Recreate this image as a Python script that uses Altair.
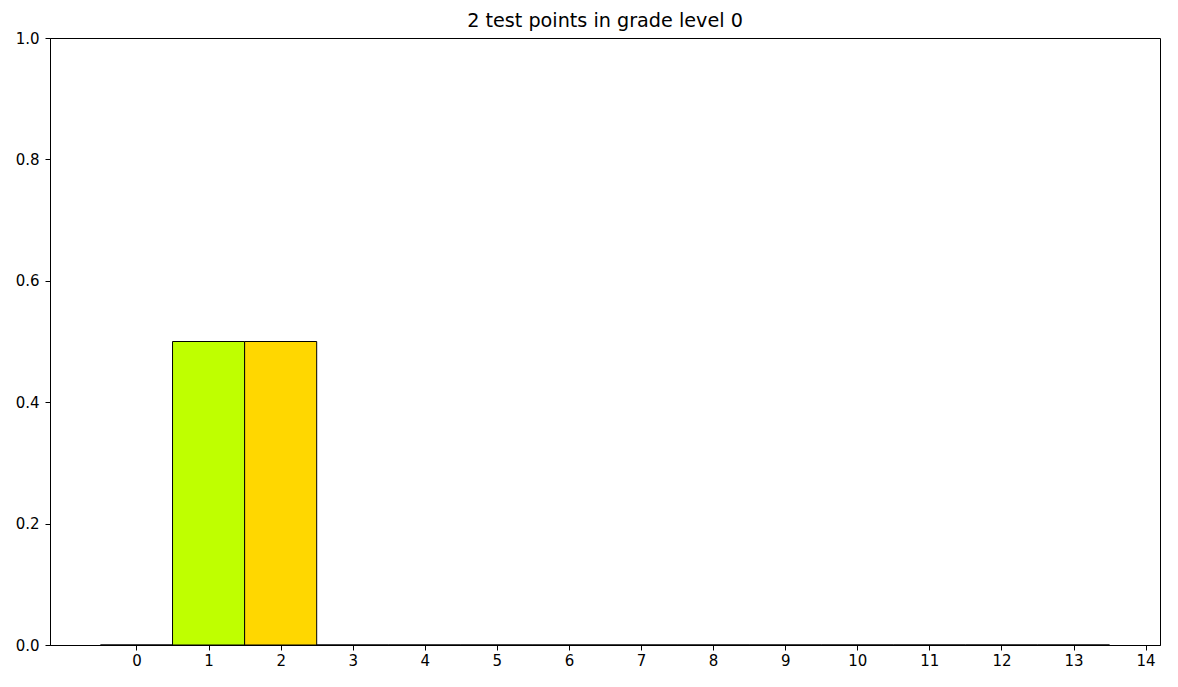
import altair as alt
import pandas as pd

levels = list(range(14))
fractions = [0.0, 0.5, 0.5, 0, 0, 0, 0, 0, 0, 0, 0, 0, 0, 0]
colors = ["#ffffff", "#bfff00", "#ffd700", "#ffffff", "#ffffff", "#ffffff", "#ffffff",
          "#ffffff", "#ffffff", "#ffffff", "#ffffff", "#ffffff", "#ffffff", "#ffffff"]
x_ticks = list(range(15))
y_ticks = [0.0, 0.2, 0.4, 0.6, 0.8, 1.0]

df = pd.DataFrame({
    "level": levels,
    "start": [l - 0.5 for l in levels],
    "end": [l + 0.5 for l in levels],
    "fraction": fractions,
    "base": [0.0] * len(levels),
    "color": colors,
})

font = "DejaVu Sans"

bars = alt.Chart(df).mark_bar(stroke="black", strokeWidth=1, opacity=1).encode(
    x=alt.X("start:Q", scale=alt.Scale(domain=[-1.2, 14.2], nice=False, zero=False),
            axis=alt.Axis(values=x_ticks, format="d", title=None)),
    x2="end:Q",
    y=alt.Y("fraction:Q", scale=alt.Scale(domain=[0, 1], nice=False),
            axis=alt.Axis(values=y_ticks, format=".1f", title=None)),
    y2="base:Q",
    color=alt.Color("color:N", scale=None),
)

chart = bars.properties(
    width=1110,
    height=607,
    title=alt.TitleParams("2 test points in grade level 0", fontSize=19.2, fontWeight="normal",
                          font=font, color="black", anchor="middle", offset=0),
    autosize=alt.AutoSizeParams(type="none"),
    padding={"left": 42, "top": 30, "right": 10, "bottom": 34},
).configure_view(
    stroke="black", strokeWidth=1
).configure_axis(
    grid=False, domainColor="black", tickColor="black", labelColor="black",
    labelFont=font, labelFontSize=15, tickSize=5, labelPadding=3,
    domainWidth=1, tickWidth=1,
).configure_axisY(
    labelPadding=6
)

chart.save("out.html", embed_options={"renderer": "svg", "actions": False})
